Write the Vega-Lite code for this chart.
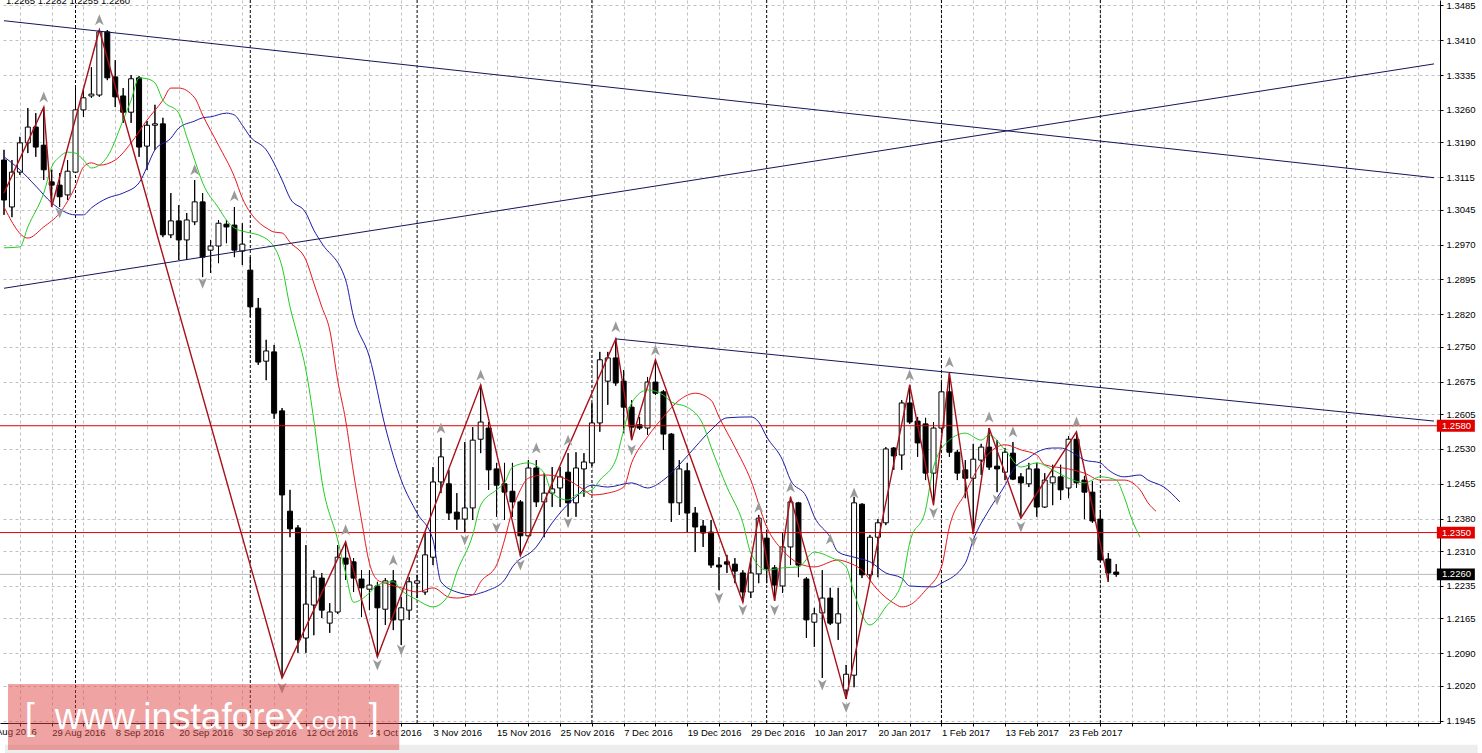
{
"$schema": "https://vega.github.io/schema/vega-lite/v6.json",
"width": 1440, "height": 723,
"autosize": {"type": "none"},
"padding": {"left": 0, "top": 0, "right": 42, "bottom": 30},
"background": "white",
"config": {"view": {"stroke": null}, "font": "Liberation Sans"},
"resolve": {"axis": {"x": "independent", "y": "independent"}},
"datasets": {
"candles": [
{"t":0,"o":1.3152,"h":1.3174,"l":1.3034,"c":1.3066},
{"t":1,"o":1.3051,"h":1.3152,"l":1.3029,"c":1.3126},
{"t":2,"o":1.3126,"h":1.3202,"l":1.3120,"c":1.3189},
{"t":3,"o":1.3189,"h":1.3264,"l":1.3167,"c":1.3223},
{"t":4,"o":1.3223,"h":1.3253,"l":1.3159,"c":1.3180},
{"t":5,"o":1.3184,"h":1.3266,"l":1.3109,"c":1.3131},
{"t":6,"o":1.3105,"h":1.3131,"l":1.3055,"c":1.3098},
{"t":7,"o":1.3098,"h":1.3124,"l":1.3051,"c":1.3073},
{"t":8,"o":1.3077,"h":1.3152,"l":1.3066,"c":1.3128},
{"t":9,"o":1.3126,"h":1.3307,"l":1.3124,"c":1.3260},
{"t":10,"o":1.3260,"h":1.3307,"l":1.3245,"c":1.3286},
{"t":11,"o":1.3290,"h":1.3352,"l":1.3286,"c":1.3294},
{"t":12,"o":1.3292,"h":1.3432,"l":1.3288,"c":1.3428},
{"t":13,"o":1.3428,"h":1.3432,"l":1.3324,"c":1.3329},
{"t":14,"o":1.3331,"h":1.3367,"l":1.3266,"c":1.3288},
{"t":15,"o":1.3290,"h":1.3307,"l":1.3232,"c":1.3255},
{"t":16,"o":1.3255,"h":1.3335,"l":1.3232,"c":1.3327},
{"t":17,"o":1.3329,"h":1.3333,"l":1.3159,"c":1.3180},
{"t":18,"o":1.3182,"h":1.3236,"l":1.3131,"c":1.3227},
{"t":19,"o":1.3227,"h":1.3271,"l":1.3174,"c":1.3230},
{"t":20,"o":1.3230,"h":1.3243,"l":1.2986,"c":1.2991},
{"t":21,"o":1.2991,"h":1.3081,"l":1.2984,"c":1.3021},
{"t":22,"o":1.3021,"h":1.3055,"l":1.2937,"c":1.2980},
{"t":23,"o":1.2980,"h":1.3038,"l":1.2937,"c":1.3023},
{"t":24,"o":1.3019,"h":1.3109,"l":1.3012,"c":1.3062},
{"t":25,"o":1.3062,"h":1.3081,"l":1.2900,"c":1.2943},
{"t":26,"o":1.2958,"h":1.2980,"l":1.2909,"c":1.2967},
{"t":27,"o":1.2967,"h":1.3023,"l":1.2930,"c":1.3016},
{"t":28,"o":1.3014,"h":1.3023,"l":1.2973,"c":1.3008},
{"t":29,"o":1.3012,"h":1.3051,"l":1.2943,"c":1.2958},
{"t":30,"o":1.2956,"h":1.3016,"l":1.2926,"c":1.2971},
{"t":31,"o":1.2915,"h":1.2943,"l":1.2814,"c":1.2836},
{"t":32,"o":1.2833,"h":1.2855,"l":1.2711,"c":1.2717},
{"t":33,"o":1.2719,"h":1.2765,"l":1.2678,"c":1.2741},
{"t":34,"o":1.2739,"h":1.2754,"l":1.2595,"c":1.2607},
{"t":35,"o":1.2612,"h":1.2618,"l":1.2037,"c":1.2431},
{"t":36,"o":1.2396,"h":1.2442,"l":1.2340,"c":1.2358},
{"t":37,"o":1.2360,"h":1.2366,"l":1.2091,"c":1.2119},
{"t":38,"o":1.2123,"h":1.2323,"l":1.2091,"c":1.2196},
{"t":39,"o":1.2194,"h":1.2269,"l":1.2129,"c":1.2254},
{"t":40,"o":1.2252,"h":1.2263,"l":1.2166,"c":1.2183},
{"t":41,"o":1.2155,"h":1.2198,"l":1.2134,"c":1.2179},
{"t":42,"o":1.2179,"h":1.2323,"l":1.2175,"c":1.2297},
{"t":43,"o":1.2295,"h":1.2330,"l":1.2248,"c":1.2282},
{"t":44,"o":1.2287,"h":1.2295,"l":1.2222,"c":1.2252},
{"t":45,"o":1.2250,"h":1.2269,"l":1.2168,"c":1.2231},
{"t":46,"o":1.2228,"h":1.2269,"l":1.2183,"c":1.2237},
{"t":47,"o":1.2235,"h":1.2244,"l":1.2082,"c":1.2188},
{"t":48,"o":1.2185,"h":1.2252,"l":1.2151,"c":1.2246},
{"t":49,"o":1.2246,"h":1.2269,"l":1.2140,"c":1.2162},
{"t":50,"o":1.2162,"h":1.2211,"l":1.2108,"c":1.2188},
{"t":51,"o":1.2183,"h":1.2254,"l":1.2162,"c":1.2244},
{"t":52,"o":1.2241,"h":1.2259,"l":1.2209,"c":1.2246},
{"t":53,"o":1.2222,"h":1.2349,"l":1.2216,"c":1.2302},
{"t":54,"o":1.2297,"h":1.2491,"l":1.2280,"c":1.2459},
{"t":55,"o":1.2459,"h":1.2554,"l":1.2435,"c":1.2513},
{"t":56,"o":1.2455,"h":1.2485,"l":1.2377,"c":1.2392},
{"t":57,"o":1.2394,"h":1.2435,"l":1.2356,"c":1.2379},
{"t":58,"o":1.2379,"h":1.2545,"l":1.2349,"c":1.2403},
{"t":59,"o":1.2403,"h":1.2577,"l":1.2377,"c":1.2549},
{"t":60,"o":1.2551,"h":1.2668,"l":1.2521,"c":1.2588},
{"t":61,"o":1.2575,"h":1.2588,"l":1.2442,"c":1.2485},
{"t":62,"o":1.2487,"h":1.2500,"l":1.2384,"c":1.2452},
{"t":63,"o":1.2455,"h":1.2500,"l":1.2377,"c":1.2437},
{"t":64,"o":1.2439,"h":1.2500,"l":1.2384,"c":1.2416},
{"t":65,"o":1.2416,"h":1.2420,"l":1.2300,"c":1.2343},
{"t":66,"o":1.2343,"h":1.2506,"l":1.2340,"c":1.2489},
{"t":67,"o":1.2489,"h":1.2506,"l":1.2405,"c":1.2416},
{"t":68,"o":1.2416,"h":1.2478,"l":1.2340,"c":1.2435},
{"t":69,"o":1.2435,"h":1.2491,"l":1.2405,"c":1.2444},
{"t":70,"o":1.2446,"h":1.2491,"l":1.2405,"c":1.2470},
{"t":71,"o":1.2480,"h":1.2521,"l":1.2384,"c":1.2414},
{"t":72,"o":1.2414,"h":1.2523,"l":1.2384,"c":1.2489},
{"t":73,"o":1.2487,"h":1.2521,"l":1.2427,"c":1.2502},
{"t":74,"o":1.2500,"h":1.2629,"l":1.2493,"c":1.2586},
{"t":75,"o":1.2586,"h":1.2739,"l":1.2567,"c":1.2722},
{"t":76,"o":1.2676,"h":1.2739,"l":1.2625,"c":1.2726},
{"t":77,"o":1.2726,"h":1.2767,"l":1.2666,"c":1.2672},
{"t":78,"o":1.2676,"h":1.2700,"l":1.2564,"c":1.2620},
{"t":79,"o":1.2620,"h":1.2635,"l":1.2549,"c":1.2577},
{"t":80,"o":1.2582,"h":1.2599,"l":1.2571,"c":1.2575},
{"t":81,"o":1.2575,"h":1.2685,"l":1.2560,"c":1.2674},
{"t":82,"o":1.2674,"h":1.2722,"l":1.2646,"c":1.2650},
{"t":83,"o":1.2653,"h":1.2657,"l":1.2528,"c":1.2562},
{"t":84,"o":1.2562,"h":1.2564,"l":1.2373,"c":1.2414},
{"t":85,"o":1.2414,"h":1.2506,"l":1.2388,"c":1.2487},
{"t":86,"o":1.2483,"h":1.2500,"l":1.2351,"c":1.2392},
{"t":87,"o":1.2392,"h":1.2405,"l":1.2308,"c":1.2362},
{"t":88,"o":1.2364,"h":1.2377,"l":1.2319,"c":1.2349},
{"t":89,"o":1.2351,"h":1.2377,"l":1.2274,"c":1.2280},
{"t":90,"o":1.2280,"h":1.2297,"l":1.2226,"c":1.2276},
{"t":91,"o":1.2287,"h":1.2302,"l":1.2263,"c":1.2282},
{"t":92,"o":1.2282,"h":1.2295,"l":1.2241,"c":1.2267},
{"t":93,"o":1.2263,"h":1.2269,"l":1.2200,"c":1.2222},
{"t":94,"o":1.2222,"h":1.2295,"l":1.2209,"c":1.2263},
{"t":95,"o":1.2261,"h":1.2388,"l":1.2241,"c":1.2381},
{"t":96,"o":1.2338,"h":1.2356,"l":1.2241,"c":1.2272},
{"t":97,"o":1.2274,"h":1.2280,"l":1.2203,"c":1.2237},
{"t":98,"o":1.2235,"h":1.2349,"l":1.2220,"c":1.2319},
{"t":99,"o":1.2319,"h":1.2427,"l":1.2280,"c":1.2416},
{"t":100,"o":1.2414,"h":1.2416,"l":1.2254,"c":1.2280},
{"t":101,"o":1.2250,"h":1.2254,"l":1.2123,"c":1.2162},
{"t":102,"o":1.2157,"h":1.2188,"l":1.2104,"c":1.2175},
{"t":103,"o":1.2177,"h":1.2269,"l":1.2037,"c":1.2209},
{"t":104,"o":1.2209,"h":1.2231,"l":1.2151,"c":1.2155},
{"t":105,"o":1.2155,"h":1.2231,"l":1.2119,"c":1.2175},
{"t":106,"o":1.2011,"h":1.2065,"l":1.1992,"c":1.2045},
{"t":107,"o":1.2043,"h":1.2427,"l":1.2017,"c":1.2414},
{"t":108,"o":1.2411,"h":1.2413,"l":1.2252,"c":1.2259},
{"t":109,"o":1.2259,"h":1.2345,"l":1.2248,"c":1.2340},
{"t":110,"o":1.2340,"h":1.2379,"l":1.2254,"c":1.2371},
{"t":111,"o":1.2371,"h":1.2534,"l":1.2366,"c":1.2530},
{"t":112,"o":1.2532,"h":1.2534,"l":1.2485,"c":1.2515},
{"t":113,"o":1.2517,"h":1.2635,"l":1.2485,"c":1.2629},
{"t":114,"o":1.2629,"h":1.2668,"l":1.2584,"c":1.2588},
{"t":115,"o":1.2590,"h":1.2599,"l":1.2513,"c":1.2543},
{"t":116,"o":1.2584,"h":1.2597,"l":1.2463,"c":1.2478},
{"t":117,"o":1.2478,"h":1.2588,"l":1.2409,"c":1.2575},
{"t":118,"o":1.2575,"h":1.2672,"l":1.2571,"c":1.2653},
{"t":119,"o":1.2653,"h":1.2694,"l":1.2513,"c":1.2523},
{"t":120,"o":1.2523,"h":1.2528,"l":1.2463,"c":1.2478},
{"t":121,"o":1.2485,"h":1.2506,"l":1.2424,"c":1.2467},
{"t":122,"o":1.2467,"h":1.2541,"l":1.2347,"c":1.2508},
{"t":123,"o":1.2506,"h":1.2541,"l":1.2474,"c":1.2534},
{"t":124,"o":1.2534,"h":1.2575,"l":1.2485,"c":1.2491},
{"t":125,"o":1.2493,"h":1.2549,"l":1.2437,"c":1.2487},
{"t":126,"o":1.2480,"h":1.2532,"l":1.2463,"c":1.2523},
{"t":127,"o":1.2521,"h":1.2545,"l":1.2463,"c":1.2465},
{"t":128,"o":1.2470,"h":1.2478,"l":1.2381,"c":1.2457},
{"t":129,"o":1.2455,"h":1.2500,"l":1.2448,"c":1.2487},
{"t":130,"o":1.2487,"h":1.2500,"l":1.2384,"c":1.2405},
{"t":131,"o":1.2405,"h":1.2478,"l":1.2403,"c":1.2463},
{"t":132,"o":1.2457,"h":1.2496,"l":1.2409,"c":1.2470},
{"t":133,"o":1.2470,"h":1.2496,"l":1.2420,"c":1.2442},
{"t":134,"o":1.2446,"h":1.2558,"l":1.2424,"c":1.2551},
{"t":135,"o":1.2551,"h":1.2567,"l":1.2446,"c":1.2457},
{"t":136,"o":1.2463,"h":1.2472,"l":1.2379,"c":1.2437},
{"t":137,"o":1.2437,"h":1.2461,"l":1.2371,"c":1.2375},
{"t":138,"o":1.2379,"h":1.2399,"l":1.2287,"c":1.2291},
{"t":139,"o":1.2293,"h":1.2306,"l":1.2244,"c":1.2263},
{"t":140,"o":1.2265,"h":1.2282,"l":1.2255,"c":1.2260}
],
"jaw": [
{"t":0,"v":1.3159},{"t":2,"v":1.3131},{"t":4,"v":1.3096},{"t":6,"v":1.3060},{"t":9,"v":1.3034},{"t":10,"v":1.3034},{"t":11,"v":1.3049},{"t":13,"v":1.3070},{"t":15,"v":1.3081},{"t":17,"v":1.3103},{"t":18,"v":1.3137},{"t":19,"v":1.3174},{"t":21,"v":1.3199},{"t":22,"v":1.3221},{"t":24,"v":1.3236},{"t":25,"v":1.3243},{"t":26,"v":1.3245},{"t":28,"v":1.3253},{"t":29,"v":1.3249},{"t":30,"v":1.3227},{"t":31,"v":1.3202},{"t":33,"v":1.3174},{"t":35,"v":1.3109},{"t":36,"v":1.3070},{"t":38,"v":1.3038},{"t":39,"v":1.3001},{"t":40,"v":1.2973},{"t":43,"v":1.2894},{"t":44,"v":1.2814},{"t":46,"v":1.2728},{"t":48,"v":1.2577},{"t":50,"v":1.2463},{"t":52,"v":1.2392},{"t":54,"v":1.2334},{"t":55,"v":1.2244},{"t":57,"v":1.2222},{"t":59,"v":1.2216},{"t":60,"v":1.2220},{"t":61,"v":1.2226},{"t":63,"v":1.2248},{"t":64,"v":1.2276},{"t":67,"v":1.2319},{"t":69,"v":1.2371},{"t":72,"v":1.2427},{"t":74,"v":1.2452},{"t":76,"v":1.2448},{"t":79,"v":1.2457},{"t":81,"v":1.2446},{"t":83,"v":1.2463},{"t":85,"v":1.2496},{"t":87,"v":1.2534},{"t":89,"v":1.2571},{"t":91,"v":1.2597},{"t":94,"v":1.2599},{"t":95,"v":1.2588},{"t":96,"v":1.2556},{"t":98,"v":1.2506},{"t":99,"v":1.2463},{"t":101,"v":1.2427},{"t":102,"v":1.2384},{"t":104,"v":1.2340},{"t":105,"v":1.2308},{"t":107,"v":1.2297},{"t":109,"v":1.2287},{"t":111,"v":1.2263},{"t":113,"v":1.2252},{"t":114,"v":1.2235},{"t":117,"v":1.2233},{"t":118,"v":1.2241},{"t":121,"v":1.2284},{"t":122,"v":1.2334},{"t":124,"v":1.2399},{"t":126,"v":1.2452},{"t":127,"v":1.2485},{"t":129,"v":1.2511},{"t":130,"v":1.2523},{"t":132,"v":1.2532},{"t":133,"v":1.2532},{"t":135,"v":1.2517},{"t":136,"v":1.2506},{"t":138,"v":1.2500},{"t":139,"v":1.2485},{"t":141,"v":1.2470},{"t":143,"v":1.2474},{"t":144,"v":1.2463},{"t":146,"v":1.2448},{"t":148,"v":1.2416}
],
"teeth": [
{"t":0,"v":1.3051},{"t":3,"v":1.2984},{"t":5,"v":1.3008},{"t":7,"v":1.3038},{"t":9,"v":1.3096},{"t":10,"v":1.3137},{"t":11,"v":1.3146},{"t":12,"v":1.3141},{"t":14,"v":1.3152},{"t":16,"v":1.3189},{"t":18,"v":1.3238},{"t":20,"v":1.3281},{"t":21,"v":1.3307},{"t":22,"v":1.3307},{"t":24,"v":1.3286},{"t":25,"v":1.3249},{"t":27,"v":1.3184},{"t":29,"v":1.3116},{"t":30,"v":1.3070},{"t":32,"v":1.3019},{"t":33,"v":1.3006},{"t":34,"v":1.2997},{"t":35,"v":1.2995},{"t":36,"v":1.2975},{"t":38,"v":1.2937},{"t":39,"v":1.2887},{"t":40,"v":1.2836},{"t":41,"v":1.2786},{"t":42,"v":1.2678},{"t":43,"v":1.2592},{"t":44,"v":1.2478},{"t":45,"v":1.2377},{"t":46,"v":1.2284},{"t":47,"v":1.2248},{"t":48,"v":1.2241},{"t":50,"v":1.2231},{"t":52,"v":1.2222},{"t":54,"v":1.2231},{"t":56,"v":1.2211},{"t":57,"v":1.2209},{"t":59,"v":1.2216},{"t":60,"v":1.2244},{"t":62,"v":1.2280},{"t":63,"v":1.2334},{"t":64,"v":1.2399},{"t":65,"v":1.2442},{"t":66,"v":1.2467},{"t":68,"v":1.2474},{"t":70,"v":1.2470},{"t":71,"v":1.2463},{"t":73,"v":1.2442},{"t":74,"v":1.2431},{"t":76,"v":1.2435},{"t":78,"v":1.2448},{"t":79,"v":1.2500},{"t":81,"v":1.2556},{"t":83,"v":1.2599},{"t":85,"v":1.2635},{"t":87,"v":1.2650},{"t":89,"v":1.2635},{"t":90,"v":1.2599},{"t":92,"v":1.2534},{"t":94,"v":1.2463},{"t":96,"v":1.2362},{"t":98,"v":1.2312},{"t":100,"v":1.2284},{"t":102,"v":1.2276},{"t":105,"v":1.2291},{"t":106,"v":1.2287},{"t":108,"v":1.2269},{"t":110,"v":1.2226},{"t":112,"v":1.2198},{"t":113,"v":1.2190},{"t":114,"v":1.2194},{"t":116,"v":1.2226},{"t":118,"v":1.2276},{"t":119,"v":1.2362},{"t":121,"v":1.2435},{"t":122,"v":1.2470},{"t":124,"v":1.2521},{"t":126,"v":1.2539},{"t":128,"v":1.2528},{"t":130,"v":1.2517},{"t":131,"v":1.2496},{"t":134,"v":1.2487},{"t":136,"v":1.2478},{"t":138,"v":1.2463},{"t":140,"v":1.2463},{"t":141,"v":1.2463},{"t":143,"v":1.2442},{"t":144,"v":1.2414},{"t":145,"v":1.2396}
],
"lips": [
{"t":0,"v":1.2963},{"t":2,"v":1.2965},{"t":3,"v":1.3008},{"t":5,"v":1.3081},{"t":6,"v":1.3137},{"t":7,"v":1.3159},{"t":8,"v":1.3169},{"t":9,"v":1.3167},{"t":10,"v":1.3152},{"t":11,"v":1.3135},{"t":12,"v":1.3141},{"t":13,"v":1.3159},{"t":15,"v":1.3238},{"t":16,"v":1.3281},{"t":17,"v":1.3329},{"t":18,"v":1.3327},{"t":19,"v":1.3318},{"t":20,"v":1.3281},{"t":22,"v":1.3253},{"t":23,"v":1.3202},{"t":24,"v":1.3152},{"t":25,"v":1.3103},{"t":27,"v":1.3049},{"t":28,"v":1.3023},{"t":29,"v":1.3006},{"t":31,"v":1.2995},{"t":32,"v":1.2991},{"t":34,"v":1.2965},{"t":35,"v":1.2922},{"t":36,"v":1.2836},{"t":37,"v":1.2771},{"t":38,"v":1.2700},{"t":39,"v":1.2592},{"t":40,"v":1.2463},{"t":42,"v":1.2334},{"t":43,"v":1.2263},{"t":44,"v":1.2200},{"t":46,"v":1.2220},{"t":47,"v":1.2237},{"t":49,"v":1.2244},{"t":50,"v":1.2226},{"t":52,"v":1.2205},{"t":54,"v":1.2190},{"t":56,"v":1.2216},{"t":57,"v":1.2265},{"t":59,"v":1.2345},{"t":60,"v":1.2409},{"t":62,"v":1.2442},{"t":63,"v":1.2457},{"t":64,"v":1.2491},{"t":66,"v":1.2500},{"t":68,"v":1.2478},{"t":69,"v":1.2435},{"t":71,"v":1.2420},{"t":72,"v":1.2431},{"t":74,"v":1.2442},{"t":75,"v":1.2463},{"t":77,"v":1.2506},{"t":78,"v":1.2571},{"t":79,"v":1.2629},{"t":81,"v":1.2657},{"t":83,"v":1.2646},{"t":84,"v":1.2631},{"t":86,"v":1.2620},{"t":88,"v":1.2582},{"t":89,"v":1.2534},{"t":91,"v":1.2448},{"t":93,"v":1.2371},{"t":94,"v":1.2306},{"t":96,"v":1.2269},{"t":98,"v":1.2274},{"t":100,"v":1.2276},{"t":102,"v":1.2308},{"t":104,"v":1.2297},{"t":106,"v":1.2276},{"t":107,"v":1.2220},{"t":109,"v":1.2151},{"t":111,"v":1.2190},{"t":113,"v":1.2241},{"t":114,"v":1.2328},{"t":116,"v":1.2399},{"t":117,"v":1.2491},{"t":119,"v":1.2549},{"t":121,"v":1.2564},{"t":123,"v":1.2549},{"t":124,"v":1.2560},{"t":126,"v":1.2528},{"t":128,"v":1.2491},{"t":130,"v":1.2500},{"t":132,"v":1.2485},{"t":134,"v":1.2467},{"t":136,"v":1.2457},{"t":138,"v":1.2470},{"t":140,"v":1.2463},{"t":141,"v":1.2427},{"t":142,"v":1.2377},{"t":143,"v":1.2340}
],
"zigzag": [
{"t":0,"v":1.3081},{"t":5,"v":1.3266},{"t":6,"v":1.3051},{"t":12,"v":1.3432},{"t":35,"v":1.2037},{"t":43,"v":1.2330},{"t":47,"v":1.2082},{"t":60,"v":1.2668},{"t":65,"v":1.2300},{"t":77,"v":1.2767},{"t":79,"v":1.2549},{"t":82,"v":1.2722},{"t":93,"v":1.2200},{"t":95,"v":1.2384},{"t":97,"v":1.2203},{"t":99,"v":1.2427},{"t":106,"v":1.1992},{"t":114,"v":1.2668},{"t":117,"v":1.2409},{"t":119,"v":1.2694},{"t":122,"v":1.2347},{"t":124,"v":1.2575},{"t":128,"v":1.2381},{"t":135,"v":1.2567},{"t":139,"v":1.2244}
],
"trend": [
{"id":"A","t":0,"v":1.3452},{"id":"A","t":180,"v":1.3114},
{"id":"B","t":0,"v":1.2876},{"id":"B","t":180,"v":1.3359},
{"id":"C","t":77,"v":1.2767},{"id":"C","t":180,"v":1.2590}
],
"upArrows": [
{"t":5,"v":1.3288},{"t":12,"v":1.3454},{"t":24,"v":1.3131},{"t":29,"v":1.3075},{"t":43,"v":1.2356},{"t":49,"v":1.2291},{"t":55,"v":1.2575},{"t":60,"v":1.2689},{"t":67,"v":1.2532},{"t":71,"v":1.2549},{"t":77,"v":1.2793},{"t":82,"v":1.2743},{"t":95,"v":1.2405},{"t":99,"v":1.2448},{"t":104,"v":1.2336},{"t":107,"v":1.2435},{"t":114,"v":1.2689},{"t":119,"v":1.2717},{"t":124,"v":1.2599},{"t":127,"v":1.2567},{"t":135,"v":1.2588}
],
"downArrows": [
{"t":7,"v":1.3038},{"t":25,"v":1.2887},{"t":35,"v":1.2015},{"t":47,"v":1.2065},{"t":50,"v":1.2097},{"t":58,"v":1.2334},{"t":62,"v":1.2360},{"t":65,"v":1.2280},{"t":71,"v":1.2371},{"t":79,"v":1.2528},{"t":90,"v":1.2209},{"t":93,"v":1.2183},{"t":97,"v":1.2183},{"t":103,"v":1.2022},{"t":106,"v":1.1974},{"t":117,"v":1.2392},{"t":122,"v":1.2330},{"t":125,"v":1.2420},{"t":128,"v":1.2362}
],
"seps": [{"t":9},{"t":31},{"t":52},{"t":74},{"t":96},{"t":118},{"t":138},{"t":169}],
"redLevels": [{"v":1.2580,"txt":"1.2580"},{"v":1.2350,"txt":"1.2350"}],
"bid": [{"v":1.2260,"txt":"1.2260"}],
"info": [{"txt":"1.2265 1.2282 1.2255 1.2260"}],
"firstDate": [{"txt":"17 Aug 2016"}],
"wm": [{"txt":"[","p":0},{"txt":"www.instaforex","p":1},{"txt":".com","p":2},{"txt":"]","p":3}]
},
"layer": [
{
"data": {"values": [{"k": 1}]},
"mark": {"type": "rect", "color": "#ededed"},
"encoding": {
"x": {"datum": 0.125, "type": "quantitative", "scale": {"domain": [0.125, 180.125], "nice": false, "zero": false}, "axis": null},
"x2": {"datum": 185.5},
"y": {"datum": 1.1893, "type": "quantitative", "scale": {"domain": [1.194, 1.34966], "nice": false, "zero": false}, "axis": null},
"y2": {"datum": 1.1872}
}
},
{
"data": {"name": "candles"},
"mark": {"type": "rule", "color": "#000000", "strokeWidth": 1},
"encoding": {
"x": {"field": "t", "type": "quantitative", "scale": {"domain": [0.125, 180.125], "nice": false, "zero": false},
"axis": {"orient": "bottom", "title": null,
"values": [2,6,10,14,18,22,26,30,34,38,42,46,50,54,58,62,66,70,74,78,82,86,90,94,98,102,106,110,114,118,122,126,130,134,138,142,146,150,154,158,162,166,170,174,178],
"grid": true, "gridColor": "#c0c0c0", "gridDash": [3, 3], "gridWidth": 1,
"domain": true, "domainColor": "#000000", "domainWidth": 1,
"ticks": true, "tickColor": "#000000", "tickSize": 3,
"labelExpr": "(datum.value % 8 == 6 && datum.value <= 134) ? ['29 Aug 2016','8 Sep 2016','20 Sep 2016','30 Sep 2016','12 Oct 2016','24 Oct 2016','3 Nov 2016','15 Nov 2016','25 Nov 2016','7 Dec 2016','19 Dec 2016','29 Dec 2016','10 Jan 2017','20 Jan 2017','1 Feb 2017','13 Feb 2017','23 Feb 2017'][(datum.value - 6) / 8] : ''",
"labelAlign": "left", "labelPadding": 1, "labelFontSize": 9.5, "labelColor": "#000000", "labelFont": "Liberation Sans",
"labelOverlap": false, "labelBound": false, "labelFlush": false}},
"y": {"field": "l", "type": "quantitative", "scale": {"domain": [1.194, 1.34966], "nice": false, "zero": false},
"axis": {"orient": "right", "title": null,
"values": [1.1945,1.2020,1.2090,1.2165,1.2235,1.2310,1.2380,1.2455,1.2530,1.2605,1.2675,1.2750,1.2820,1.2895,1.2970,1.3045,1.3115,1.3190,1.3260,1.3335,1.3410,1.3485],
"format": ".4f",
"grid": true, "gridColor": "#c0c0c0", "gridDash": [3, 3], "gridWidth": 1,
"domain": true, "domainColor": "#000000", "domainWidth": 1,
"ticks": true, "tickColor": "#000000", "tickSize": 3,
"labelPadding": 3, "labelFontSize": 9.5, "labelColor": "#000000", "labelFont": "Liberation Sans",
"labelOverlap": false, "labelBound": false, "labelFlush": false}},
"y2": {"field": "h"}
}
},
{
"data": {"name": "seps"},
"mark": {"type": "rule", "color": "#000000", "strokeDash": [3, 2], "strokeWidth": 1},
"encoding": {
"x": {"field": "t", "type": "quantitative", "scale": {"domain": [0.125, 180.125], "nice": false, "zero": false}, "axis": null}
}
},
{
"data": {"name": "bid"},
"mark": {"type": "rule", "strokeWidth": 1, "color": "#b8b8b8"},
"encoding": {
"y": {"field": "v", "type": "quantitative", "scale": {"domain": [1.194, 1.34966], "nice": false, "zero": false}, "axis": null}
}
},
{
"data": {"name": "candles"},
"mark": {"type": "rule", "color": "#000000", "strokeWidth": 1},
"encoding": {
"x": {"field": "t", "type": "quantitative", "scale": {"domain": [0.125, 180.125], "nice": false, "zero": false}, "axis": null},
"y": {"field": "l", "type": "quantitative", "scale": {"domain": [1.194, 1.34966], "nice": false, "zero": false}, "axis": null},
"y2": {"field": "h"}
}
},
{
"data": {"name": "candles"},
"mark": {"type": "bar", "width": 5, "stroke": "#000000", "strokeWidth": 1},
"encoding": {
"x": {"field": "t", "type": "quantitative", "scale": {"domain": [0.125, 180.125], "nice": false, "zero": false}, "axis": null},
"y": {"field": "o", "type": "quantitative", "scale": {"domain": [1.194, 1.34966], "nice": false, "zero": false}, "axis": null},
"y2": {"field": "c"},
"fill": {"condition": {"test": "datum.c < datum.o", "value": "#000000"}, "value": "#ffffff"}
}
},
{
"data": {"name": "redLevels"},
"mark": {"type": "rule", "strokeWidth": 1, "color": "#e00000"},
"encoding": {
"y": {"field": "v", "type": "quantitative", "scale": {"domain": [1.194, 1.34966], "nice": false, "zero": false}, "axis": null}
}
},
{
"data": {"name": "jaw"},
"mark": {"type": "line", "color": "#1c1ca8", "strokeWidth": 1, "interpolate": "monotone"},
"encoding": {
"x": {"field": "t", "type": "quantitative", "scale": {"domain": [0.125, 180.125], "nice": false, "zero": false}, "axis": null},
"y": {"field": "v", "type": "quantitative", "scale": {"domain": [1.194, 1.34966], "nice": false, "zero": false}, "axis": null}
}
},
{
"data": {"name": "teeth"},
"mark": {"type": "line", "color": "#e8141b", "strokeWidth": 1, "interpolate": "monotone"},
"encoding": {
"x": {"field": "t", "type": "quantitative", "scale": {"domain": [0.125, 180.125], "nice": false, "zero": false}, "axis": null},
"y": {"field": "v", "type": "quantitative", "scale": {"domain": [1.194, 1.34966], "nice": false, "zero": false}, "axis": null}
}
},
{
"data": {"name": "lips"},
"mark": {"type": "line", "color": "#22cc22", "strokeWidth": 1, "interpolate": "monotone"},
"encoding": {
"x": {"field": "t", "type": "quantitative", "scale": {"domain": [0.125, 180.125], "nice": false, "zero": false}, "axis": null},
"y": {"field": "v", "type": "quantitative", "scale": {"domain": [1.194, 1.34966], "nice": false, "zero": false}, "axis": null}
}
},
{
"data": {"name": "zigzag"},
"mark": {"type": "line", "color": "#a8101a", "strokeWidth": 1.4},
"encoding": {
"x": {"field": "t", "type": "quantitative", "scale": {"domain": [0.125, 180.125], "nice": false, "zero": false}, "axis": null},
"y": {"field": "v", "type": "quantitative", "scale": {"domain": [1.194, 1.34966], "nice": false, "zero": false}, "axis": null}
}
},
{
"data": {"name": "trend"},
"mark": {"type": "line", "color": "#15155c", "strokeWidth": 1},
"encoding": {
"x": {"field": "t", "type": "quantitative", "scale": {"domain": [0.125, 180.125], "nice": false, "zero": false}, "axis": null},
"y": {"field": "v", "type": "quantitative", "scale": {"domain": [1.194, 1.34966], "nice": false, "zero": false}, "axis": null},
"detail": {"field": "id", "type": "nominal"}
}
},
{
"data": {"name": "upArrows"},
"mark": {"type": "point", "filled": true, "size": 121, "color": "#9a9a9a", "opacity": 1, "shape": "M0,-1L0.8,1L0,0.45L-0.8,1Z"},
"encoding": {
"x": {"field": "t", "type": "quantitative", "scale": {"domain": [0.125, 180.125], "nice": false, "zero": false}, "axis": null},
"y": {"field": "v", "type": "quantitative", "scale": {"domain": [1.194, 1.34966], "nice": false, "zero": false}, "axis": null}
}
},
{
"data": {"name": "downArrows"},
"mark": {"type": "point", "filled": true, "size": 121, "color": "#9a9a9a", "opacity": 1, "shape": "M0,1L0.8,-1L0,-0.45L-0.8,-1Z"},
"encoding": {
"x": {"field": "t", "type": "quantitative", "scale": {"domain": [0.125, 180.125], "nice": false, "zero": false}, "axis": null},
"y": {"field": "v", "type": "quantitative", "scale": {"domain": [1.194, 1.34966], "nice": false, "zero": false}, "axis": null}
}
},
{
"data": {"name": "redLevels"},
"mark": {"type": "point", "filled": true, "size": 1444, "opacity": 1, "color": "#e00000", "shape": "M-1,-0.31L1,-0.31L1,0.31L-1,0.31Z"},
"encoding": {
"x": {"datum": 182.75, "type": "quantitative", "scale": {"domain": [0.125, 180.125], "nice": false, "zero": false}, "axis": null},
"y": {"field": "v", "type": "quantitative", "scale": {"domain": [1.194, 1.34966], "nice": false, "zero": false}, "axis": null}
}
},
{
"data": {"name": "bid"},
"mark": {"type": "point", "filled": true, "size": 1444, "opacity": 1, "color": "#000000", "shape": "M-1,-0.31L1,-0.31L1,0.31L-1,0.31Z"},
"encoding": {
"x": {"datum": 182.75, "type": "quantitative", "scale": {"domain": [0.125, 180.125], "nice": false, "zero": false}, "axis": null},
"y": {"field": "v", "type": "quantitative", "scale": {"domain": [1.194, 1.34966], "nice": false, "zero": false}, "axis": null}
}
},
{
"data": {"name": "redLevels"},
"mark": {"type": "text", "align": "left", "baseline": "middle", "fontSize": 9.5, "font": "Liberation Sans", "color": "#ffffff"},
"encoding": {
"x": {"datum": 181.0, "type": "quantitative", "scale": {"domain": [0.125, 180.125], "nice": false, "zero": false}, "axis": null},
"y": {"field": "v", "type": "quantitative", "scale": {"domain": [1.194, 1.34966], "nice": false, "zero": false}, "axis": null},
"text": {"field": "txt", "type": "nominal"}
}
},
{
"data": {"name": "bid"},
"mark": {"type": "text", "align": "left", "baseline": "middle", "fontSize": 9.5, "font": "Liberation Sans", "color": "#ffffff"},
"encoding": {
"x": {"datum": 181.0, "type": "quantitative", "scale": {"domain": [0.125, 180.125], "nice": false, "zero": false}, "axis": null},
"y": {"field": "v", "type": "quantitative", "scale": {"domain": [1.194, 1.34966], "nice": false, "zero": false}, "axis": null},
"text": {"field": "txt", "type": "nominal"}
}
},
{
"data": {"name": "info"},
"mark": {"type": "text", "align": "left", "baseline": "alphabetic", "fontSize": 9.5, "font": "Liberation Sans", "color": "#000000"},
"encoding": {
"x": {"datum": 0.25, "type": "quantitative", "scale": {"domain": [0.125, 180.125], "nice": false, "zero": false}, "axis": null},
"y": {"datum": 1.3488, "type": "quantitative", "scale": {"domain": [1.194, 1.34966], "nice": false, "zero": false}, "axis": null},
"text": {"field": "txt", "type": "nominal"}
}
},
{
"data": {"name": "firstDate"},
"mark": {"type": "text", "align": "left", "baseline": "top", "fontSize": 9.5, "font": "Liberation Sans", "color": "#000000"},
"encoding": {
"x": {"datum": -2.6, "type": "quantitative", "scale": {"domain": [0.125, 180.125], "nice": false, "zero": false}, "axis": null},
"y": {"datum": 1.1932, "type": "quantitative", "scale": {"domain": [1.194, 1.34966], "nice": false, "zero": false}, "axis": null},
"text": {"field": "txt", "type": "nominal"}
}
},
{
"data": {"values": [{"k": 1}]},
"mark": {"type": "rect", "color": "#e04848", "opacity": 0.5},
"encoding": {
"x": {"datum": 0.5, "type": "quantitative", "scale": {"domain": [0.125, 180.125], "nice": false, "zero": false}, "axis": null},
"x2": {"datum": 49.75},
"y": {"datum": 1.2024, "type": "quantitative", "scale": {"domain": [1.194, 1.34966], "nice": false, "zero": false}, "axis": null},
"y2": {"datum": 1.1882}
}
},
{
"data": {"name": "wm"},
"transform": [{"filter": "datum.p == 0"}],
"mark": {"type": "text", "align": "left", "baseline": "alphabetic", "fontSize": 36, "font": "Liberation Sans", "color": "#ffffff"},
"encoding": {
"x": {"datum": 2.6, "type": "quantitative", "scale": {"domain": [0.125, 180.125], "nice": false, "zero": false}, "axis": null},
"y": {"datum": 1.1927, "type": "quantitative", "scale": {"domain": [1.194, 1.34966], "nice": false, "zero": false}, "axis": null},
"text": {"field": "txt", "type": "nominal"}
}
},
{
"data": {"name": "wm"},
"transform": [{"filter": "datum.p == 1"}],
"mark": {"type": "text", "align": "left", "baseline": "alphabetic", "fontSize": 37, "font": "Liberation Sans", "color": "#ffffff"},
"encoding": {
"x": {"datum": 6.4, "type": "quantitative", "scale": {"domain": [0.125, 180.125], "nice": false, "zero": false}, "axis": null},
"y": {"datum": 1.1927, "type": "quantitative", "scale": {"domain": [1.194, 1.34966], "nice": false, "zero": false}, "axis": null},
"text": {"field": "txt", "type": "nominal"}
}
},
{
"data": {"name": "wm"},
"transform": [{"filter": "datum.p == 2"}],
"mark": {"type": "text", "align": "left", "baseline": "alphabetic", "fontSize": 24, "font": "Liberation Sans", "color": "#ffffff"},
"encoding": {
"x": {"datum": 37.9, "type": "quantitative", "scale": {"domain": [0.125, 180.125], "nice": false, "zero": false}, "axis": null},
"y": {"datum": 1.1927, "type": "quantitative", "scale": {"domain": [1.194, 1.34966], "nice": false, "zero": false}, "axis": null},
"text": {"field": "txt", "type": "nominal"}
}
},
{
"data": {"name": "wm"},
"transform": [{"filter": "datum.p == 3"}],
"mark": {"type": "text", "align": "left", "baseline": "alphabetic", "fontSize": 36, "font": "Liberation Sans", "color": "#ffffff"},
"encoding": {
"x": {"datum": 45.9, "type": "quantitative", "scale": {"domain": [0.125, 180.125], "nice": false, "zero": false}, "axis": null},
"y": {"datum": 1.1927, "type": "quantitative", "scale": {"domain": [1.194, 1.34966], "nice": false, "zero": false}, "axis": null},
"text": {"field": "txt", "type": "nominal"}
}
}
]
}
